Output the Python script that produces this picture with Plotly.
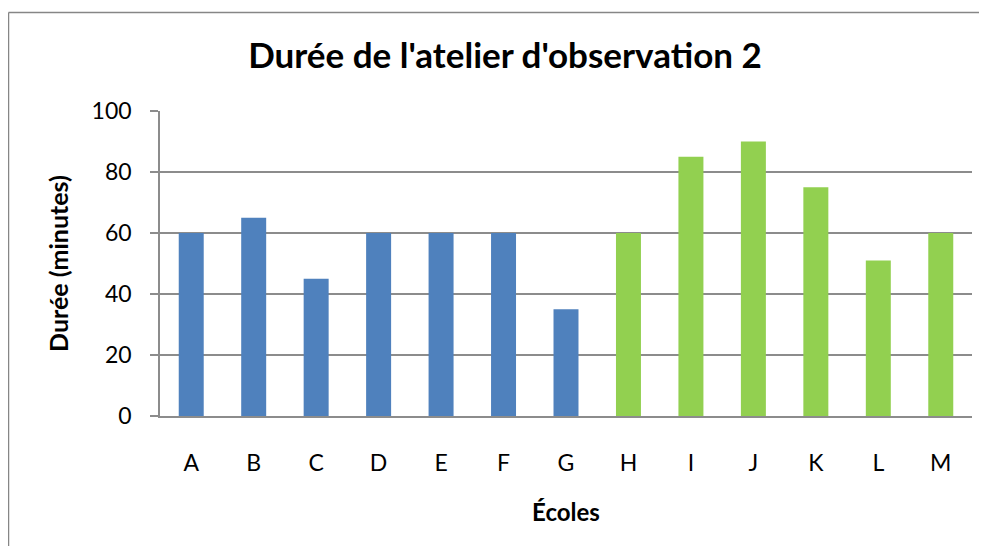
import plotly.graph_objects as go

# données
ecoles = ["A", "B", "C", "D", "E", "F", "G", "H", "I", "J", "K", "L", "M"]
durees = [60, 65, 45, 60, 60, 60, 35, 60, 85, 90, 75, 51, 60]
groupe = ["bleu"] * 7 + ["vert"] * 6
y_ticks = [0, 20, 40, 60, 80, 100]

couleurs = {"bleu": "#4F81BD", "vert": "#92D050"}
gris = "#8c8c8c"

fig = go.Figure()
fig.add_trace(go.Bar(
    x=ecoles, y=durees,
    marker=dict(color=[couleurs[g] for g in groupe], line=dict(width=0)),
    showlegend=False,
))

# la page a une marge de 8 px : on réduit la figure pour éviter le défilement
W, H = 971, 538
L, R, T, B = 152, 7, 103, 130
pw, ph = W - L - R, H - T - B

# bord du cadre du graphique (gauche et haut seulement, le reste est coupé)
bx0 = (0.5 - L) / pw
by1 = (H - B - 4.5) / ph
cadre = dict(color="#868686", width=1.5)

fig.update_layout(
    width=W, height=H,
    margin=dict(l=L, r=R, t=T, b=B),
    paper_bgcolor="white", plot_bgcolor="white",
    bargap=0.6,
    font=dict(family="Lato, sans-serif", color="black"),
    title=dict(text="<b>Durée de l'atelier d'observation 2</b>",
               x=497 / W, xanchor="center", y=1 - 48 / H, yanchor="middle",
               font=dict(size=35)),
    xaxis=dict(
        showgrid=False, showline=True, linecolor=gris, linewidth=2,
        ticks="", tickfont=dict(size=23), ticklabelstandoff=25,
        title=dict(text="<b>Écoles</b>", font=dict(size=24), standoff=30),
    ),
    yaxis=dict(
        range=[0, 100], tickvals=y_ticks,
        showgrid=True, gridcolor=gris, gridwidth=1.5,
        showline=True, linecolor=gris, linewidth=1.5,
        ticks="outside", ticklen=8, tickcolor=gris, tickwidth=1.5,
        tickfont=dict(size=23), ticklabelstandoff=14,
        title=dict(text="<b>Durée (minutes)</b>", font=dict(size=25), standoff=16),
        zeroline=False,
    ),
    shapes=[
        dict(type="line", xref="paper", yref="paper", x0=bx0, x1=(W - L) / pw,
             y0=by1, y1=by1, line=cadre, layer="below"),
        dict(type="line", xref="paper", yref="paper", x0=bx0, x1=bx0,
             y0=-B / ph, y1=by1, line=cadre, layer="below"),
    ],
)

fig.write_html("out.html")
